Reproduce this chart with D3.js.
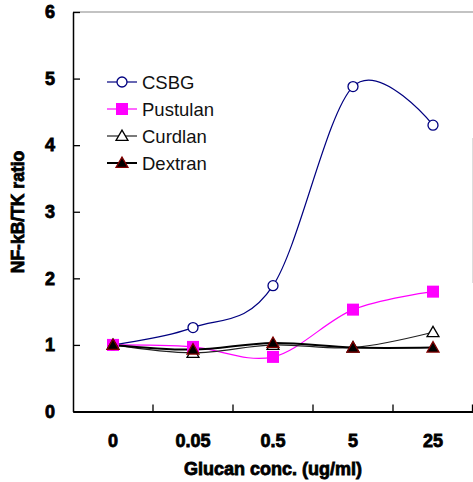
<!DOCTYPE html>
<html>
<head>
<meta charset="utf-8">
<script src="https://cdn.jsdelivr.net/npm/d3@7"></script>
<style>
  body { margin: 0; background: #fff; }
  .bold { font-family: "Liberation Sans", Arial, sans-serif; font-weight: bold; fill: #000; stroke: #000; stroke-width: 0.8px; }
</style>
</head>
<body>
<svg id="chart" width="473" height="482"></svg>
<script>
const concentrations = ["0", "0.05", "0.5", "5", "25"];
const csbg = [1.0, 1.26, 1.89, 4.88, 4.30];
const pustulan = [1.0, 0.97, 0.82, 1.53, 1.80];
const curdlan = [1.0, 0.88, 1.0, 0.96, 1.19];
const dextran = [1.0, 0.93, 1.03, 0.96, 0.96];
const yTicks = [0, 1, 2, 3, 4, 5, 6];

const svg = d3.select("#chart");
const plotLeft = 73, plotRight = 473, plotTop = 12, plotBottom = 411.5;

const x = d3.scaleBand().domain(concentrations).range([plotLeft, plotRight]);
const y = d3.scaleLinear().domain([0, 6]).range([plotBottom, plotTop]);

const series = [
  { name: "CSBG", values: csbg, color: "#000080", width: 1.2, marker: "circle" },
  { name: "Pustulan", values: pustulan, color: "#ff00ff", width: 1.2, marker: "square" },
  { name: "Curdlan", values: curdlan, color: "#222", width: 1.2, marker: "openTri" },
  { name: "Dextran", values: dextran, color: "#000", width: 2, marker: "fillTri" }
];

// top frame line and faint right edge
svg.append("line").attr("x1", plotLeft).attr("x2", plotRight).attr("y1", plotTop).attr("y2", plotTop)
  .attr("stroke", "#888").attr("stroke-width", 1.2);
svg.append("line").attr("x1", 472.5).attr("x2", 472.5).attr("y1", 138).attr("y2", 283)
  .attr("stroke", "#ddd").attr("stroke-width", 1);

// y axis
const yAxis = svg.append("g").attr("transform", `translate(${plotLeft},0)`)
  .call(d3.axisLeft(y).tickValues(yTicks).tickFormat(d3.format("d"))
    .tickSizeInner(-7).tickSizeOuter(0).tickPadding(18));
yAxis.select(".domain").attr("stroke", "#000").attr("stroke-width", 1.5);
yAxis.selectAll(".tick line").attr("stroke", "#000").attr("stroke-width", 1.3);
yAxis.selectAll("text").attr("class", "bold").attr("font-size", 18);

// x axis (labels at category centres, ticks at boundaries)
const xAxis = svg.append("g").attr("transform", `translate(0,${plotBottom})`)
  .call(d3.axisBottom(x).tickSize(0).tickPadding(23));
xAxis.select(".domain").attr("stroke", "#000").attr("stroke-width", 2.2);
xAxis.selectAll("text").attr("class", "bold").attr("font-size", 18);
xAxis.selectAll(".boundary")
  .data(concentrations.slice(1).concat("end"))
  .enter().append("line")
  .attr("x1", d => d === "end" ? plotRight - 0.5 : x(d))
  .attr("x2", d => d === "end" ? plotRight - 0.5 : x(d))
  .attr("y1", 0).attr("y2", -7)
  .attr("stroke", "#000").attr("stroke-width", 1.3);

// axis titles
svg.append("text").attr("class", "bold").attr("font-size", 18)
  .attr("x", 273).attr("y", 475).attr("text-anchor", "middle")
  .text("Glucan conc. (ug/ml)");
svg.append("text").attr("class", "bold").attr("font-size", 17.5)
  .attr("transform", "translate(24,212) rotate(-90)").attr("text-anchor", "middle")
  .text("NF-kB/TK ratio");

// markers
function drawMarker(g, type, cx, cy) {
  if (type === "circle") {
    g.append("circle").attr("cx", cx).attr("cy", cy).attr("r", 5)
      .attr("fill", "#fff").attr("stroke", "#000080").attr("stroke-width", 1.3);
  } else if (type === "square") {
    g.append("rect").attr("x", cx - 6).attr("y", cy - 6).attr("width", 12).attr("height", 12)
      .attr("fill", "#ff00ff");
  } else {
    const tri = d3.symbol().type(d3.symbolTriangle).size(62);
    g.append("path").attr("d", tri).attr("transform", `translate(${cx},${cy + 1})`)
      .attr("fill", type === "openTri" ? "#fff" : "#000")
      .attr("stroke", type === "openTri" ? "#000" : "#800000")
      .attr("stroke-width", 1.3);
  }
}

const line = d3.line()
  .x((d, i) => x(concentrations[i]) + x.bandwidth() / 2)
  .y(d => y(d))
  .curve(d3.curveCatmullRom.alpha(0));

series.forEach(s => {
  svg.append("path").datum(s.values).attr("d", line)
    .attr("fill", "none").attr("stroke", s.color).attr("stroke-width", s.width);
});
series.forEach(s => {
  const g = svg.append("g");
  s.values.forEach((v, i) => drawMarker(g, s.marker, x(concentrations[i]) + x.bandwidth() / 2, y(v)));
});

// legend
const legend = svg.append("g");
series.forEach((s, i) => {
  const ly = 82 + i * 27;
  legend.append("line").attr("x1", 107).attr("x2", 137).attr("y1", ly).attr("y2", ly)
    .attr("stroke", s.color).attr("stroke-width", s.width);
  drawMarker(legend, s.marker, 122, ly);
  legend.append("text").attr("x", 142).attr("y", ly + 6.5)
    .attr("font-family", "Liberation Sans, Arial, sans-serif").attr("font-size", 18.5)
    .attr("fill", "#111").text(s.name);
});
</script>
</body>
</html>
